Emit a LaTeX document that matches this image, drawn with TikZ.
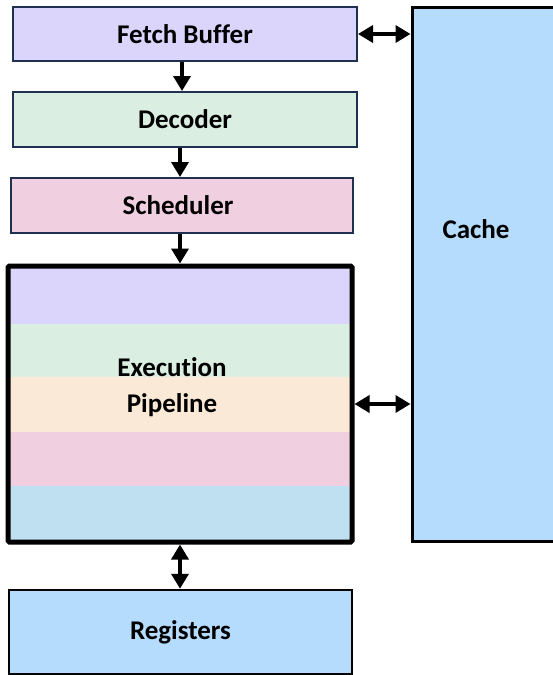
\documentclass[tikz,border=0pt]{standalone}
\usepackage{fontspec}
\setmainfont{Carlito}[Ligatures={NoCommon,NoRequired,NoContextual}]
\usetikzlibrary{arrows.meta}
\definecolor{cpurple}{HTML}{DCD5FB}
\definecolor{cgreen}{HTML}{DAEFE2}
\definecolor{cpink}{HTML}{F0D0E0}
\definecolor{cpeach}{HTML}{FAE9D6}
\definecolor{cstripeblue}{HTML}{BEE0F1}
\definecolor{cblue}{HTML}{B5DBFD}
\definecolor{cnavy}{HTML}{1F3050}
\tikzset{
  x=1pt,y=-1pt,
  txt/.style={font=\fontsize{27}{32}\selectfont\bfseries},
  blk/.style={txt,draw=cnavy,line width=2pt,minimum width=344pt,minimum height=54pt,inner sep=0pt},
  bigblk/.style={txt,draw=black,line width=2.5pt,inner sep=0pt},
  arr/.style={line width=3.5pt,-{Triangle[width=17pt,length=15pt]}},
  darr/.style={line width=3.5pt,{Triangle[width=17pt,length=15pt]}-{Triangle[width=17pt,length=15pt]}},
  lbl/.style={txt,inner sep=0pt}
}
\begin{document}
\begin{tikzpicture}
\useasboundingbox (0,0) rectangle (553,675);
\fill[white] (0,0) rectangle (553,675);
% blocks
\node[blk,fill=cpurple] (fetch) at (185,34) {Fetch Buffer};
\node[blk,fill=cgreen,minimum height=55pt] (dec) at (185,119.5) {Decoder};
\node[blk,fill=cpink,minimum width=342pt,minimum height=55pt] (sch) at (182,205.5) {\hspace*{-8pt}Scheduler};
% execution pipeline stripes
\fill[cpurple] (8,266) rectangle (352,324);
\fill[cgreen] (8,324) rectangle (352,377);
\fill[cpeach] (8,377) rectangle (352,432);
\fill[cpink] (8,432) rectangle (352,486);
\fill[cstripeblue] (8,486) rectangle (352,542);
\node[draw=black,line width=5pt,rounded corners=1.5pt,minimum width=344pt,minimum height=276pt,inner sep=0pt] (exe) at (180,404) {};
\node[lbl,align=center] (exelbl) at (172,387) {Execution\\[4pt]Pipeline};
\node[bigblk,fill=cblue,minimum width=343pt,minimum height=84pt] (reg) at (180.5,632) {Registers};
\node[bigblk,draw=black,line width=3pt,fill=cblue,minimum width=148pt,minimum height=534pt] (cache) at (486,274) {};
\node[lbl] (cachelbl) at (476,229) {Cache};
% connectors
\draw[arr] ([xshift=-3pt]fetch.south) -- ([xshift=-3pt]fetch.south |- dec.north);
\draw[arr] ([xshift=-2pt]sch.north |- dec.south) -- ([xshift=-2pt]sch.north);
\draw[arr] ([xshift=-2pt]sch.south) -- ([xshift=-2pt]sch.south |- exe.north);
\draw[darr] (exe.south) -- (exe.south |- reg.north);
\draw[darr] (fetch.east) -- (fetch.east -| cache.west);
\draw[darr] (exe.east) -- (exe.east -| cache.west);
\end{tikzpicture}
\end{document}
